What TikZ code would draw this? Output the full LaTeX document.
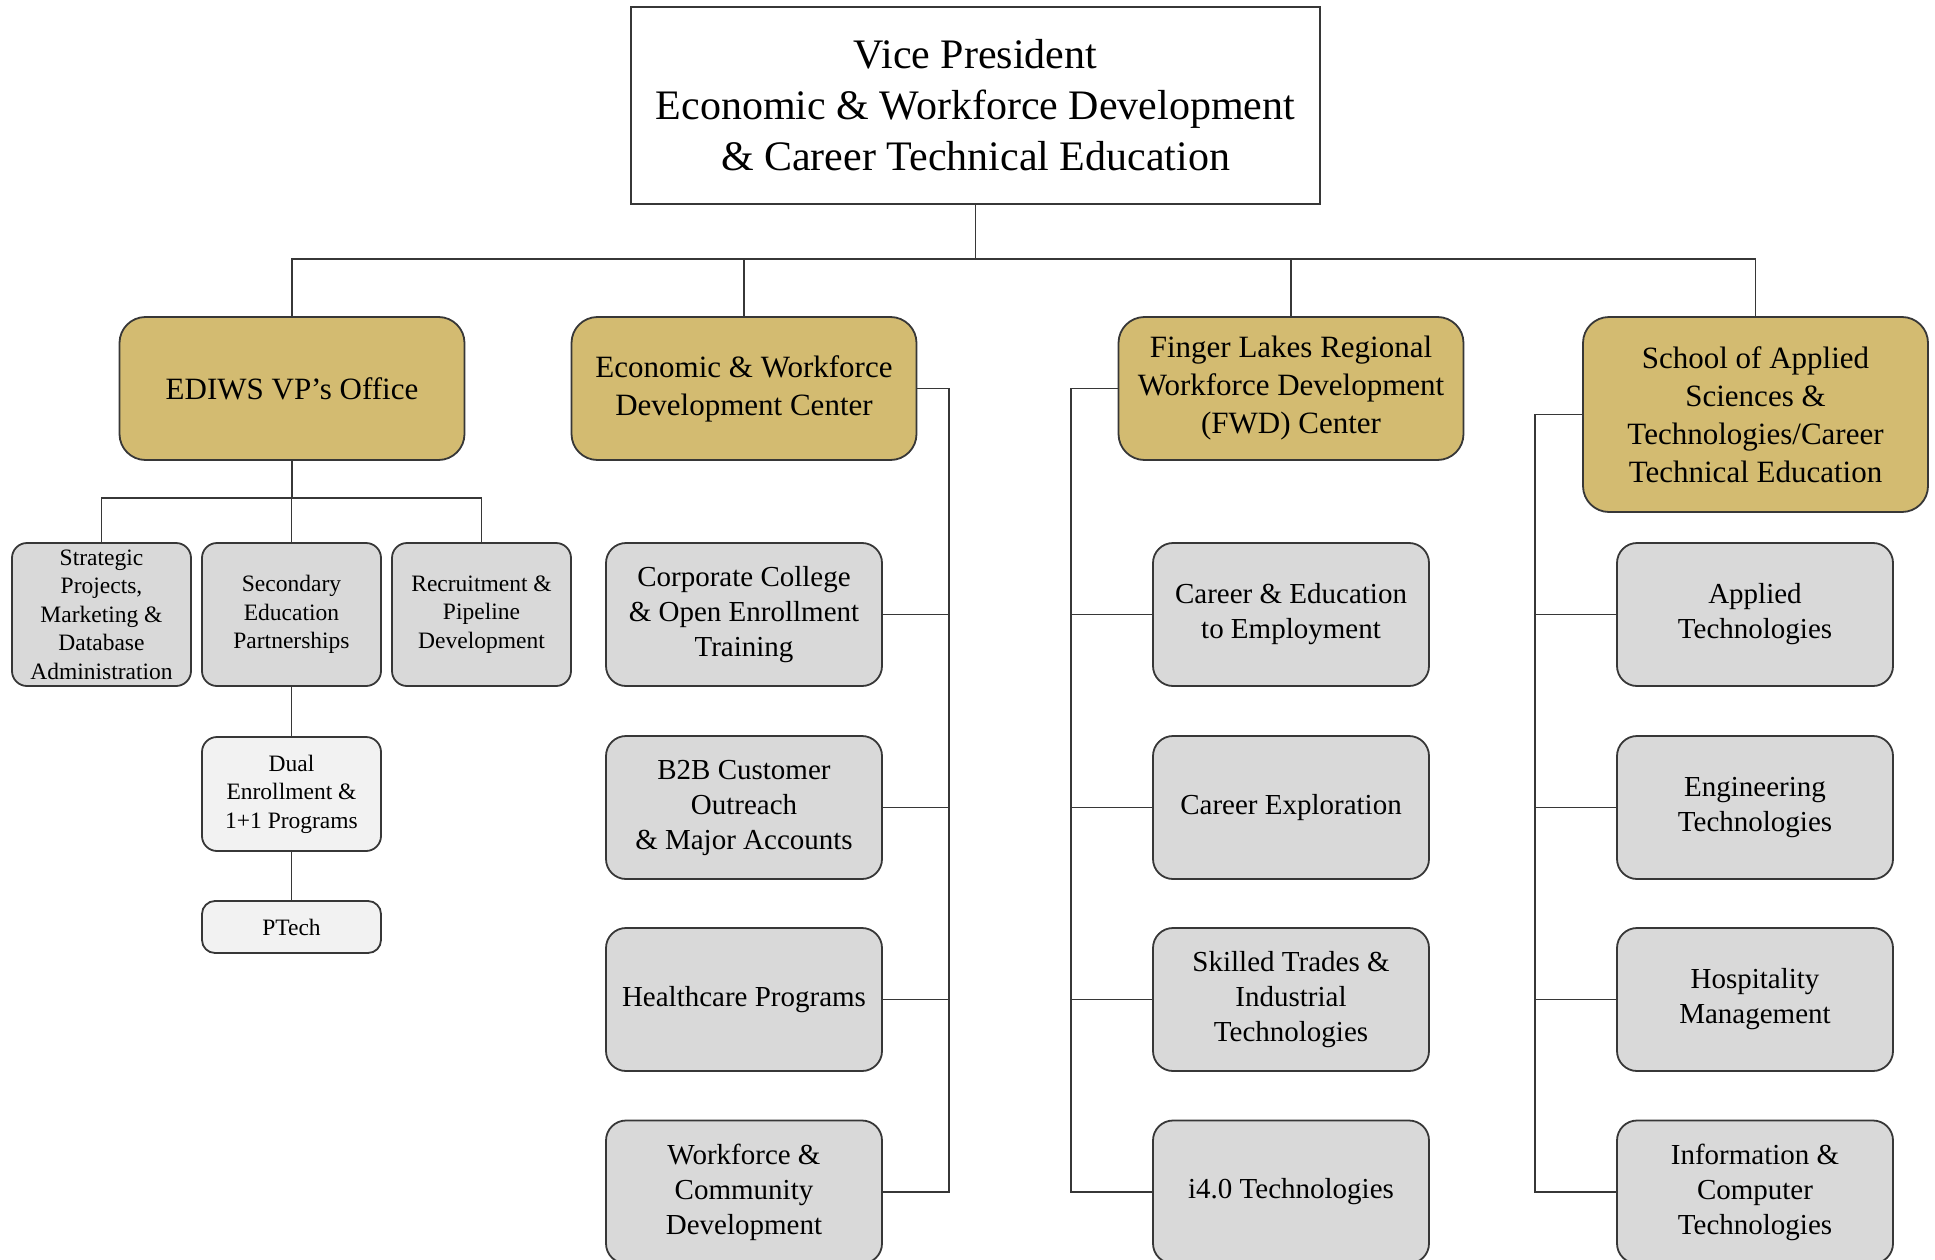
\documentclass[tikz,border=0pt]{standalone}
\usepackage{fontspec}
\setmainfont{Liberation Serif}
\definecolor{gold}{RGB}{211,187,113}
\definecolor{boxgray}{RGB}{217,217,217}
\definecolor{boxlight}{RGB}{242,242,242}
\definecolor{edge}{RGB}{55,55,55}
\begin{document}
\begin{tikzpicture}[x=1pt,y=-1pt,
  conn/.style={draw=edge,line width=1.8pt},
  topbox/.style={draw=edge,line width=1.8pt,fill=white,minimum width=689pt,minimum height=197pt,align=center,inner sep=0pt,font=\fontsize{42}{51}\selectfont},
  goldbox/.style={draw=edge,line width=1.8pt,fill=gold,rounded corners=26pt,minimum width=345pt,minimum height=143pt,align=center,inner sep=0pt,font=\fontsize{31}{38}\selectfont},
  graybox/.style={draw=edge,line width=1.8pt,fill=boxgray,rounded corners=20pt,minimum width=276pt,minimum height=143pt,align=center,inner sep=0pt,font=\fontsize{29}{35}\selectfont},
  smallbox/.style={draw=edge,line width=1.8pt,fill=boxgray,rounded corners=15pt,minimum width=179pt,minimum height=143pt,align=center,inner sep=0pt,font=\fontsize{23.5}{28.5}\selectfont},
  lightbox/.style={smallbox,fill=boxlight},
]
\useasboundingbox (0,0) rectangle (1935,1260);
\clip (0,0) rectangle (1935,1260);

% top
\node[topbox] (top) at (975.5,105.5) {Vice President\\Economic \& Workforce Development\\\& Career Technical Education};

% level 1
\node[goldbox] (g1) at (292,388.5) {EDIWS VP’s Office};
\node[goldbox] (g2) at (744,388.5) {Economic \& Workforce\\Development Center};
\node[goldbox] (g3) at (1291,388.5) {Finger Lakes Regional\\Workforce Development\\(FWD) Center};
\node[goldbox,minimum height=195pt] (g4) at (1755.5,414.5) {School of Applied\\Sciences \&\\Technologies/Career\\Technical Education};

% EDIWS children
\node[smallbox] (s1) at (101.5,614.5) {Strategic\\Projects,\\Marketing \&\\Database\\Administration};
\node[smallbox] (s2) at (291.5,614.5) {Secondary\\Education\\Partnerships};
\node[smallbox] (s3) at (481.5,614.5) {Recruitment \&\\Pipeline\\Development};
\node[lightbox,minimum height=114pt] (d1) at (291.5,794) {Dual\\Enrollment \&\\1+1 Programs};
\node[lightbox,minimum height=52pt,rounded corners=13pt] (p1) at (291.5,927) {PTech};

% column 2
\node[graybox] (c21) at (744,614.5) {Corporate College\\\& Open Enrollment\\Training};
\node[graybox] (c22) at (744,807.5) {B2B Customer\\Outreach\\\& Major Accounts};
\node[graybox] (c23) at (744,999.5) {Healthcare Programs};
\node[graybox] (c24) at (744,1192) {Workforce \&\\Community\\Development};

% column 3
\node[graybox] (c31) at (1291,614.5) {Career \& Education\\to Employment};
\node[graybox] (c32) at (1291,807.5) {Career Exploration};
\node[graybox] (c33) at (1291,999.5) {Skilled Trades \&\\Industrial\\Technologies};
\node[graybox] (c34) at (1291,1192) {i4.0 Technologies};

% column 4
\node[graybox] (c41) at (1755,614.5) {Applied\\Technologies};
\node[graybox] (c42) at (1755,807.5) {Engineering\\Technologies};
\node[graybox] (c43) at (1755,999.5) {Hospitality\\Management};
\node[graybox] (c44) at (1755,1192) {Information \&\\Computer\\Technologies};

% bus coordinates
\coordinate (bus) at (0,259);
\coordinate (sb) at (0,498);
\coordinate (b2) at (949,0);
\coordinate (b3) at (1071,0);
\coordinate (b4) at (1535,0);

% top connectors
\draw[conn] (top.south) -- (top.south |- bus);
\draw[conn] (g1.north) -- (g1.north |- bus) -- (g4.north |- bus) -- (g4.north);
\draw[conn] (g2.north) -- (g2.north |- bus);
\draw[conn] (g3.north) -- (g3.north |- bus);

% EDIWS tree
\draw[conn] (g1.south) -- (g1.south |- sb);
\draw[conn] (s1.north) -- (s1.north |- sb) -- (s3.north |- sb) -- (s3.north);
\draw[conn] (s2.north) -- (s2.north |- sb);
\draw[conn] (s2.south) -- (d1.north);
\draw[conn] (d1.south) -- (p1.north);

% column 2
\draw[conn] (g2.east) -- (g2.east -| b2) -- (b2 |- c24.east) -- (c24.east);
\draw[conn] (c21.east) -- (c21.east -| b2);
\draw[conn] (c22.east) -- (c22.east -| b2);
\draw[conn] (c23.east) -- (c23.east -| b2);

% column 3
\draw[conn] (g3.west) -- (g3.west -| b3) -- (b3 |- c34.west) -- (c34.west);
\draw[conn] (c31.west) -- (c31.west -| b3);
\draw[conn] (c32.west) -- (c32.west -| b3);
\draw[conn] (c33.west) -- (c33.west -| b3);

% column 4
\draw[conn] (g4.west) -- (g4.west -| b4) -- (b4 |- c44.west) -- (c44.west);
\draw[conn] (c41.west) -- (c41.west -| b4);
\draw[conn] (c42.west) -- (c42.west -| b4);
\draw[conn] (c43.west) -- (c43.west -| b4);
\end{tikzpicture}
\end{document}
